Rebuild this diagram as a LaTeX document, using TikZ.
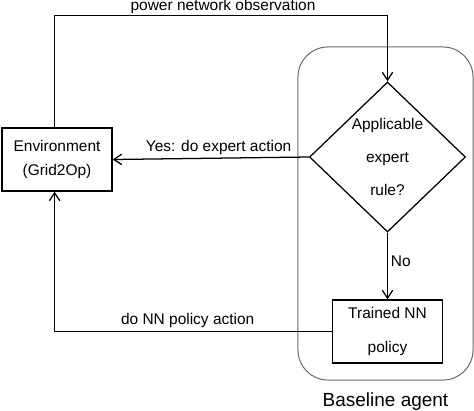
\documentclass[tikz,border=0pt]{standalone}
\usepackage{fontspec}
\setmainfont{Liberation Sans}
\usetikzlibrary{shapes.geometric,arrows.meta,positioning}

\begin{document}
\begin{tikzpicture}[
  x=0.025cm, y=-0.025cm,
  block/.style={rectangle, draw, minimum width=2.75cm, minimum height=1.575cm,
                align=center, font=\fontsize{11}{17.7}\selectfont, line width=0.9pt},
  decision/.style={diamond, draw, minimum width=3.9cm, minimum height=3.75cm,
                   inner sep=0pt, align=center, font=\fontsize{11}{23.5}\selectfont,
                   line width=0.9pt},
  group/.style={rectangle, draw=black!60, rounded corners=0.75cm,
                minimum width=4.375cm, minimum height=8.325cm, line width=0.7pt},
  lbl/.style={font=\fontsize{11}{13}\selectfont, inner sep=2pt},
  edge/.style={draw, -{Straight Barb[length=2mm,width=2.6mm]}, line width=0.9pt},
]
  \useasboundingbox (0,0) rectangle (474,410);

  % Column x-coordinates
  \def\xenv{57}
  \def\xagent{387.5}

  % Baseline agent frame
  \node[group] (agent) at (385.5,213.5) {};
  \node[font=\fontsize{13.5}{16}\selectfont, below=0.17cm of agent] (agentlbl) {Baseline agent};

  % Agent internals
  \node[decision] (rule) at (\xagent,157) {Applicable\\expert\\rule?};
  \node[block, font=\fontsize{11}{23.5}\selectfont] (policy) at (\xagent,331.5) {Trained NN\\policy};

  % Environment
  \node[block] (env) at (\xenv,159.5) {Environment\\(Grid2Op)};

  % Observation loop over the top
  \draw[edge] ([xshift=-0.06cm]env.north) -- ++(0,-112)
       -| node[lbl, above, inner sep=0.6pt, pos=0.253] {power network observation} (rule.north);

  % Expert rule -> environment
  \draw[edge] (rule.west) -- node[lbl, above, pos=0.46] {Yes: do expert action} (env.east);

  % Expert rule -> NN policy
  \draw[edge] (rule.south) -- node[lbl, right, pos=0.43] {No} (policy.north);

  % NN policy -> environment, routed below
  \draw[edge] (policy.west) -| node[lbl, above, pos=0.26] {do NN policy action}
       ([xshift=-0.06cm]env.south);

\end{tikzpicture}
\end{document}
